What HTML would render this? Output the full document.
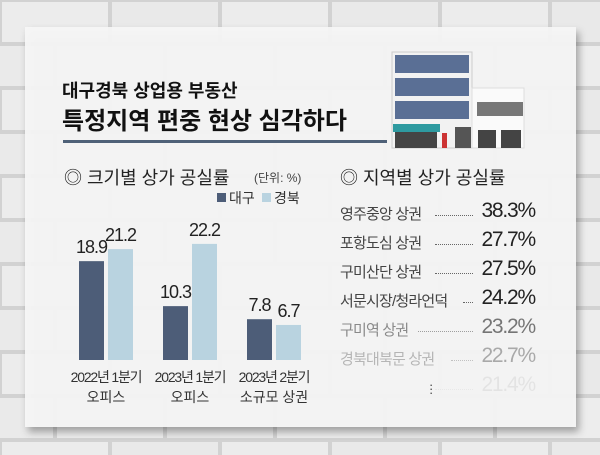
<!DOCTYPE html>
<html><head><meta charset="utf-8"><style>
body{margin:0;width:600px;height:455px;overflow:hidden;background:#dcdcdc;font-family:"Liberation Sans","Noto Sans CJK KR",sans-serif;}
#root{position:relative;width:600px;height:455px;}
.t{position:absolute;white-space:nowrap;}
</style></head><body>
<div id="root">
<svg width="600" height="455" style="position:absolute;left:0;top:0">
<defs>
<pattern id="br" width="220" height="88" patternUnits="userSpaceOnUse">
<rect width="220" height="88" fill="#d2d2d2"/>
<rect x="2" y="2" width="106" height="40" fill="#ececec"/><rect x="112" y="2" width="106" height="40" fill="#e9e9e9"/>
<rect x="-53" y="46" width="106" height="40" fill="#eaeaea"/><rect x="57" y="46" width="106" height="40" fill="#ededed"/><rect x="167" y="46" width="106" height="40" fill="#e8e8e8"/>
</pattern>
<filter id="sh" x="-5%" y="-5%" width="115%" height="120%"><feDropShadow dx="3" dy="5" stdDeviation="4" flood-color="#000" flood-opacity="0.35"/></filter>
</defs>
<rect width="600" height="455" fill="url(#br)"/>
<rect x="25" y="27" width="551" height="400" fill="#f6f6f6" fill-opacity="0.93" filter="url(#sh)"/>
<rect x="63" y="140" width="324" height="3" fill="#4f6178"/>
<g>
<rect x="392" y="52" width="80" height="96" fill="#f2f2f2" stroke="#ccc"/>
<rect x="395" y="55" width="74" height="18" fill="#5a6f95"/>
<rect x="395" y="78" width="74" height="18" fill="#5a6f95"/>
<rect x="395" y="101" width="74" height="18" fill="#5a6f95"/>
<rect x="472" y="88" width="52" height="60" fill="#fafafa" stroke="#ddd"/>
<rect x="477" y="102" width="46" height="14" fill="#777"/>
<rect x="393" y="124" width="47" height="8" fill="#2e9aa0"/>
<rect x="395" y="132" width="42" height="16" fill="#444"/>
<rect x="442" y="133" width="5" height="15" fill="#c33"/>
<rect x="455" y="127" width="16" height="21" fill="#555"/>
<rect x="478" y="130" width="18" height="18" fill="#444"/><rect x="501" y="130" width="20" height="18" fill="#444"/>
</g>
</svg>
<div class="t" style="left:62px;top:77px;font-size:18px;font-weight:bold;color:#111">대구경북 상업용 부동산</div>
<div class="t" style="left:62px;top:101px;font-size:24px;font-weight:bold;color:#111">특정지역 편중 현상 심각하다</div>
<div class="t" style="left:64px;top:164px;font-size:18px;color:#222">◎ 크기별 상가 공실률</div>
<div class="t" style="left:254px;top:169px;font-size:12px;color:#444">(단위: %)</div>
<svg id="chart" width="320" height="455" style="position:absolute;left:0;top:0"></svg>
<div class="t" style="left:340px;top:164px;font-size:18px;color:#222">◎ 지역별 상가 공실률</div>
<div id="list"></div>
</div>
<script>
const categories1=["2022년 1분기","2023년 1분기","2023년 2분기"];
const categories2=["오피스","오피스","소규모 상권"];
const daegu=[18.9,10.3,7.8];
const gyeongbuk=[21.2,22.2,6.7];
const regions=["영주중앙 상권","포항도심 상권","구미산단 상권","서문시장/청라언덕","구미역 상권","경북대북문 상권","　"];
const rates=["38.3%","27.7%","27.5%","24.2%","23.2%","22.7%","21.4%"];
const NS="http://www.w3.org/2000/svg";
const svg=document.getElementById('chart');
const base=360, scale=5.23;
const y=v=>base-v*scale;
const gx=i=>79+i*84;
function mk(t,a){const e=document.createElementNS(NS,t);for(const k in a)e.setAttribute(k,a[k]);svg.appendChild(e);return e;}
let l1=mk('rect',{x:217,y:193,width:9,height:9,fill:'#4d5d78'});


let lt1=mk('text',{x:229,y:203,'font-size':14,fill:'#333'});lt1.textContent='대구';


let l2=mk('rect',{x:262,y:193,width:9,height:9,fill:'#b9d3e0'});


let lt2=mk('text',{x:274,y:203,'font-size':14,fill:'#333'});lt2.textContent='경북';


for(let i=0;i<categories1.length;i++){
  const x0=gx(i);
  [[daegu[i],'#4d5d78',0,'daegu'],[gyeongbuk[i],'#b9d3e0',29,'gyeongbuk']].forEach(([v,c,o,n])=>{
    const r=mk('rect',{x:x0+o,y:y(v),width:25,height:v*scale,fill:c});
    
    
    const t=mk('text',{x:x0+o+12.5,y:y(v)-8,'font-size':18,'text-anchor':'middle',fill:'#222',style:'letter-spacing:-1px'});
    t.textContent=v.toFixed(1);
    
    
  });
  const c1=mk('text',{x:x0+27,y:382,'font-size':14,'text-anchor':'middle',fill:'#333',style:'letter-spacing:-1.2px'});
  c1.textContent=categories1[i];
  
  
  const c2=mk('text',{x:x0+27,y:402,'font-size':14,'text-anchor':'middle',fill:'#333'});
  c2.textContent=categories2[i];
  
  
}
const list=document.getElementById('list');
const ops=[1,1,1,1,0.6,0.35,0.07];
regions.forEach((r,i)=>{
  const yy=202+i*29;
  const row=document.createElement('div');
  row.className='t';
  row.style.cssText=`left:340px;top:${yy}px;width:195px;height:22px;opacity:${ops[i]}`;
  
  
  row.innerHTML=`<span style="position:absolute;left:0;top:1px;font-size:15px;color:#444;letter-spacing:-0.8px">${r}</span><span style="position:absolute;right:62px;top:13px;width:${i==3?10:i==4?55:i==5?22:38}px;border-top:1px dotted #666"></span><span style="position:absolute;right:0;top:-3px;font-size:21px;color:#222;letter-spacing:-1.2px">${rates[i]}</span>`;
  list.appendChild(row);
});
const d=document.createElement('div');d.className='t';
d.style.cssText='left:429px;top:383px;font-size:13px;color:#444;line-height:4px';
d.innerHTML='·<br>·<br>·';


list.appendChild(d);
</script>
</body></html>
